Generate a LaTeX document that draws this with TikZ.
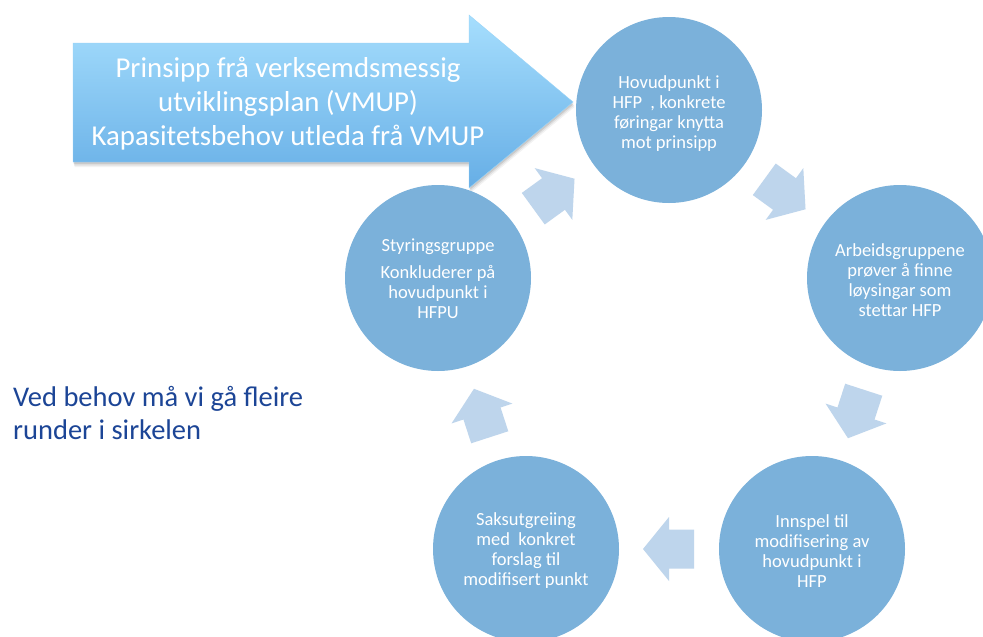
\documentclass[tikz,border=0pt]{standalone}
\usepackage{fontspec}
\setmainfont{Carlito}
\usetikzlibrary{calc}
\definecolor{circblue}{RGB}{123,177,218}
\definecolor{arrblue}{RGB}{190,213,236}
\definecolor{txtblue}{RGB}{28,69,150}
\definecolor{bigtop}{RGB}{166,222,253}
\definecolor{bigbot}{RGB}{102,174,230}
\begin{document}
\begin{tikzpicture}[x=1pt,y=-1pt,
  stage/.style={circle, fill=circblue, minimum size=186pt, inner sep=0pt},
  stagetext/.style={align=center, text=white, inner sep=0pt, font=\fontsize{18.5}{20}\selectfont},
  cyclearrow/.style={fill=arrblue, draw=none},
  bigarrow/.style={top color=bigtop, bottom color=bigbot, draw=bigtop!80!bigbot, line width=0.4pt}
]
\useasboundingbox (0,0) rectangle (983,637);
\clip (0,0) rectangle (983,637);
\fill[white] (0,0) rectangle (983,637);
% big arrow shadow
\foreach \o/\op in {5/0.05,3.5/0.07,2/0.10}{
  \fill[black,opacity=\op,shift={(\o*0.3,\o)}] (73,43) -- (469,43) -- (469,15) -- (573,102) -- (469,188) -- (469,162) -- (73,162) -- cycle;
}
\path[bigarrow] (73,43) -- (469,43) -- (469,15) -- (573,102) -- (469,188) -- (469,162) -- (73,162) -- cycle;
\node[text=white, align=center, inner sep=0pt, font=\fontsize{28.8}{34}\selectfont] (vmup) at (288,104) {Prinsipp frå verksemdsmessig\\utviklingsplan (VMUP)\\Kapasitetsbehov utleda frå VMUP};
% circles
\node[stage] (c1) at (669,110) {};
\node[stage] (c2) at (900,278) {};
\node[stage] (c3) at (812,549) {};
\node[stage] (c4) at (526,549) {};
\node[stage] (c5) at (438,278) {};
\node[stagetext] (t1) at ($(c1)+(0,4)$) {Hovudpunkt i\\HFP~~, konkrete\\føringar knytta\\mot prinsipp};
\node[stagetext] (t2) at ($(c2)+(0,2)$) {Arbeidsgruppene\\prøver å finne\\løysingar som\\stettar HFP};
\node[stagetext] (t3) at ($(c3)+(0,2)$) {Innspel til\\modifisering av\\hovudpunkt i\\HFP};
\node[stagetext] (t4) at ($(c4)+(0,2)$) {Saksutgreiing\\med~~konkret\\forslag til\\modifisert punkt};
\node[stagetext] (t5) at ($(c5)+(0,1)$) {Styringsgruppe\\[7pt]Konkluderer på\\hovudpunkt i\\HFPU};
% cycle arrows
\coordinate (m12) at ($(c1)!0.5!(c2)$);
\coordinate (m23) at ($(c2)!0.5!(c3)$);
\coordinate (m34) at ($(c3)!0.5!(c4)$);
\coordinate (m45) at ($(c4)!0.5!(c5)$);
\coordinate (m51) at ($(c5)!0.5!(c1)$);
\foreach \m/\r in {m12/-36, m23/-108, m34/180, m45/108, m51/36}{
  \fill[cyclearrow, shift={(\m)}, rotate=\r] (26,0) -- (0,32) -- (0,19.5) -- (-25,19.5) -- (-25,-19.5) -- (0,-19.5) -- (0,-32) -- cycle;
}
% side note
\node[anchor=north west, inner sep=0pt, align=left, text=txtblue, font=\fontsize{28.5}{33}\selectfont] (note) at (13,386) {Ved behov må vi gå fleire\\runder i sirkelen};
\end{tikzpicture}
\end{document}
